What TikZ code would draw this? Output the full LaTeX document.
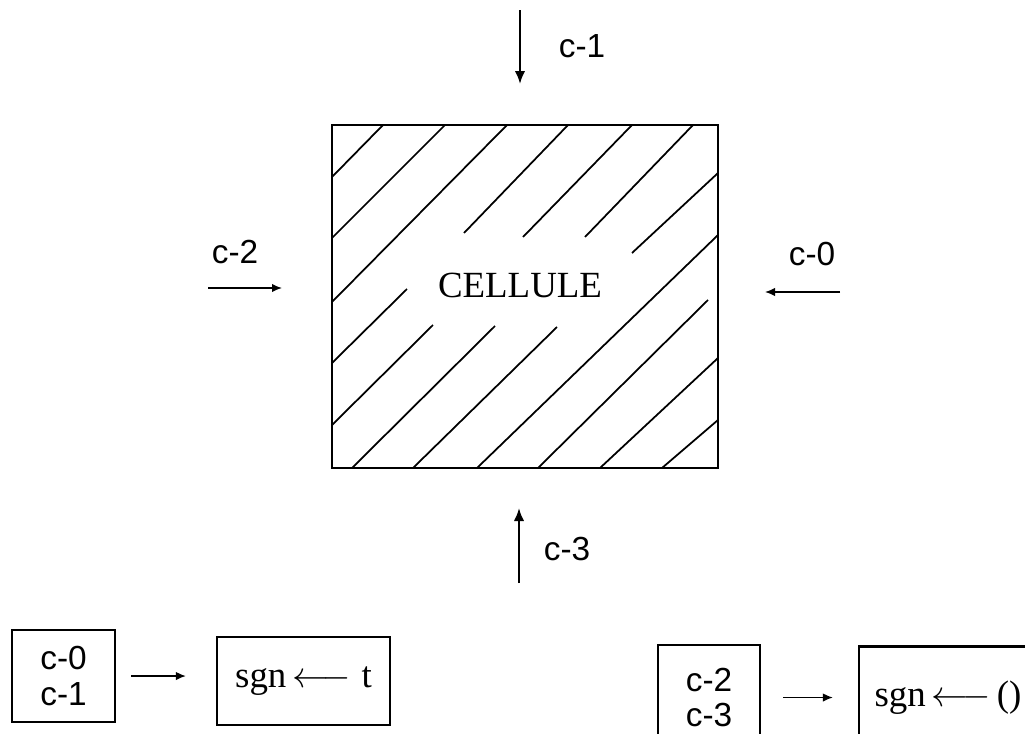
\documentclass[tikz,border=0pt]{standalone}
\usepackage{fontspec}
\setmainfont{Liberation Serif}
\setsansfont{Liberation Sans}
\usetikzlibrary{positioning, arrows.meta}

\begin{document}
\begin{tikzpicture}[x=0.02cm, y=-0.02cm,
  lbl/.style={font=\sffamily\fontsize{19}{20}\selectfont, inner sep=0pt},
  inarrow/.style={-{Latex[length=0.26cm, width=0.21cm]}, line width=1.3pt},
  flow/.style={-{Latex[length=0.2cm, width=0.17cm]}, line width=0.9pt},
  hatch/.style={line width=1pt},
  setbox/.style={draw, line width=1.3pt, align=center, font=\sffamily\fontsize{19}{20}\selectfont},
  actbox/.style={draw, line width=1.3pt, font=\fontsize{21}{24}\selectfont}]
\useasboundingbox (0,0) rectangle (1025,734);
\clip (0,0) rectangle (1025,734);

% Cell
\node[draw, line width=1.6pt, minimum width=7.72cm, minimum height=6.86cm, inner sep=0pt] (cell) at (525,296.5) {};
\foreach \xa/\ya/\xb/\yb in {383/125/332/177, 445/125/332/238, 507/125/332/302,
    568/125/464/233, 407/289/332/363, 632/125/523/237, 433/325/332/425,
    693/125/585/237, 495/326/352/468, 718/173/632/253, 557/327/413/468,
    718/235/477/468, 708/300/538/468, 718/358/600/468, 718/420/662/468}
  \draw[hatch] (\xa,\ya) -- (\xb,\yb);
\node[font=\fontsize{21}{24}\selectfont] (name) at (520,285) {CELLULE};

% Inputs
\coordinate (in1a) at (520,10);  \coordinate (in1b) at (520,84);
\coordinate (in3a) at (519,583); \coordinate (in3b) at (519,508);
\coordinate (in2a) at (208,288); \coordinate (in2b) at (282,288);
\coordinate (in0a) at (840,292); \coordinate (in0b) at (765,292);
\draw[inarrow] (in1a) -- (in1b);
\draw[inarrow] (in3a) -- (in3b);
\draw[flow] (in2a) -- (in2b);
\draw[flow] (in0a) -- (in0b);
\node[lbl] (c1) at (582,46) {c-1};
\node[lbl] (c3) at (567,549) {c-3};
\node[lbl] (c2) at (235,252) {c-2};
\node[lbl] (c0) at (812,254) {c-0};

% Rules
\node[setbox, minimum width=2.06cm, minimum height=1.84cm] (set1) at (63.5,676) {c-0\\c-1};
\node[actbox, minimum width=3.46cm, minimum height=1.76cm] (act1) at (303.5,681) {sgn\,$\longleftarrow$\;t};
\draw[flow, shorten <=0.3cm, shorten >=0.6cm] (set1.east) -- (set1.east -| act1.west);

\node[setbox, minimum width=2.04cm, minimum height=2.1cm] (set2) at (709,697.5) {c-2\\c-3};
\node[actbox, minimum width=3.56cm, minimum height=2.06cm] (act2) at (948,698) {sgn\,$\longleftarrow$\,()};
\draw[flow, shorten <=0.44cm, shorten >=0.5cm] (set2.east) -- (set2.east -| act2.west);
\end{tikzpicture}
\end{document}
